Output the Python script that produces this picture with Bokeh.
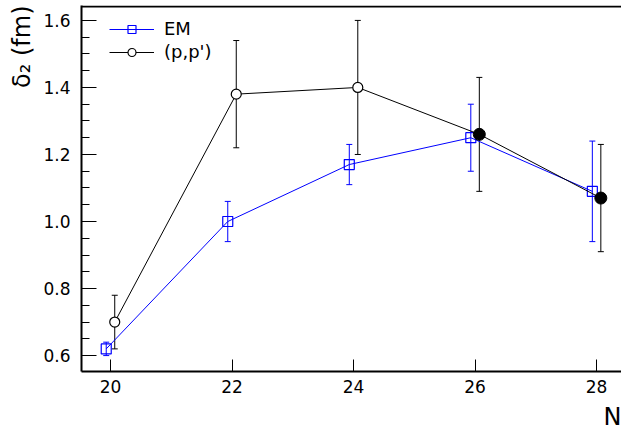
from bokeh.plotting import figure
from bokeh.models import (ColumnDataSource, Whisker, TeeHead, Range1d, SingleIntervalTicker,
                          FixedTicker, PrintfTickFormatter, Span, Legend, LegendItem, Title)
from bokeh.embed import file_html
from bokeh.resources import INLINE

# ---- data ----
em_x = [19.93, 21.93, 23.93, 25.93, 27.93]
em_y = [0.62, 1.00, 1.17, 1.25, 1.09]
em_lo = [0.60, 0.94, 1.11, 1.15, 0.94]
em_hi = [0.64, 1.06, 1.23, 1.35, 1.24]

pp_x = [20.07, 22.07, 24.07, 26.07, 28.07]
pp_y = [0.70, 1.38, 1.40, 1.26, 1.07]
pp_lo = [0.62, 1.22, 1.20, 1.09, 0.91]
pp_hi = [0.78, 1.54, 1.60, 1.43, 1.23]
pp_open = [True, True, True, False, False]

x_ticks = [20, 22, 24, 26, 28]

FONT = "DejaVu Sans"
Y0, Y1 = 0.5525, 1.6445

p = figure(width=621, height=435, output_backend="svg", toolbar_location=None,
           x_range=Range1d(19.523, 28.41), y_range=Range1d(Y0, Y1),
           min_border_left=81, min_border_right=0, min_border_top=5, min_border_bottom=62)
p.outline_line_color = None
p.xgrid.grid_line_color = None
p.ygrid.grid_line_color = None
p.background_fill_color = "white"
p.border_fill_color = "white"

# axes
for ax in (p.xaxis[0], p.yaxis[0]):
    ax.axis_line_width = 2
    ax.axis_line_color = "black"
    ax.major_tick_out = 0
    ax.minor_tick_out = 0
    ax.major_tick_line_color = "black"
    ax.major_tick_line_width = 1
    ax.major_label_text_font = FONT
    ax.major_label_text_font_size = "17px"
    ax.major_label_text_color = "black"

p.xaxis.ticker = FixedTicker(ticks=x_ticks)
p.xaxis.major_tick_in = 12
p.xaxis.minor_tick_line_color = None
p.xaxis.major_label_standoff = 8

p.yaxis.ticker = SingleIntervalTicker(interval=0.2, num_minor_ticks=4)
p.yaxis.formatter = PrintfTickFormatter(format="%.1f")
p.yaxis.major_tick_in = 15
p.yaxis.minor_tick_in = 8
p.yaxis.minor_tick_line_color = "black"
p.yaxis.major_label_standoff = 11

# top border line (just inside the frame)
p.add_layout(Span(location=Y1 - 0.003, dimension="width", line_color="black", line_width=2))

# sources
em_src = ColumnDataSource(dict(x=em_x, y=em_y, lo=em_lo, hi=em_hi))
pp_src = ColumnDataSource(dict(x=pp_x, y=pp_y, lo=pp_lo, hi=pp_hi))
pp_open_src = ColumnDataSource(dict(x=[a for a, o in zip(pp_x, pp_open) if o],
                                    y=[b for b, o in zip(pp_y, pp_open) if o]))
pp_fill_src = ColumnDataSource(dict(x=[a for a, o in zip(pp_x, pp_open) if not o],
                                    y=[b for b, o in zip(pp_y, pp_open) if not o]))

BLUE = "#0000ff"

# error bars
for src, col in ((em_src, BLUE), (pp_src, "black")):
    w = Whisker(source=src, base="x", lower="lo", upper="hi", line_color=col, line_width=1,
                upper_head=TeeHead(size=6, line_color=col, line_width=1),
                lower_head=TeeHead(size=6, line_color=col, line_width=1))
    p.add_layout(w)

em_line = p.line("x", "y", source=em_src, line_color=BLUE, line_width=1)
em_pts = p.scatter("x", "y", source=em_src, marker="square", size=10,
                   line_color=BLUE, fill_color="white", fill_alpha=0, line_width=1.2)

pp_line = p.line("x", "y", source=pp_src, line_color="black", line_width=1)
pp_o = p.scatter("x", "y", source=pp_open_src, marker="circle", size=10,
                 line_color="black", fill_color="white", line_width=1.2)
pp_f = p.scatter("x", "y", source=pp_fill_src, marker="circle", size=12,
                 line_color="black", fill_color="black")

legend = Legend(items=[LegendItem(label="EM", renderers=[em_line, em_pts]),
                       LegendItem(label="(p,p')", renderers=[pp_line, pp_o])],
                location=(28, 309), margin=0, padding=8, spacing=2,
                label_height=20, glyph_height=20, glyph_width=45, label_standoff=10,
                label_text_font=FONT, label_text_font_size="18px", label_text_color="black",
                border_line_color=None, background_fill_alpha=0)
p.add_layout(legend)

# axis labels as side titles
p.add_layout(Title(text="δ₂ (fm)", align="right", text_font=FONT, text_font_size="24px",
                   text_font_style="normal", text_color="black"), "left")
p.add_layout(Title(text="N", align="right", text_font=FONT, text_font_size="24px",
                   text_font_style="normal", text_color="black"), "below")

open("out.html", "w").write(file_html(p, INLINE))
